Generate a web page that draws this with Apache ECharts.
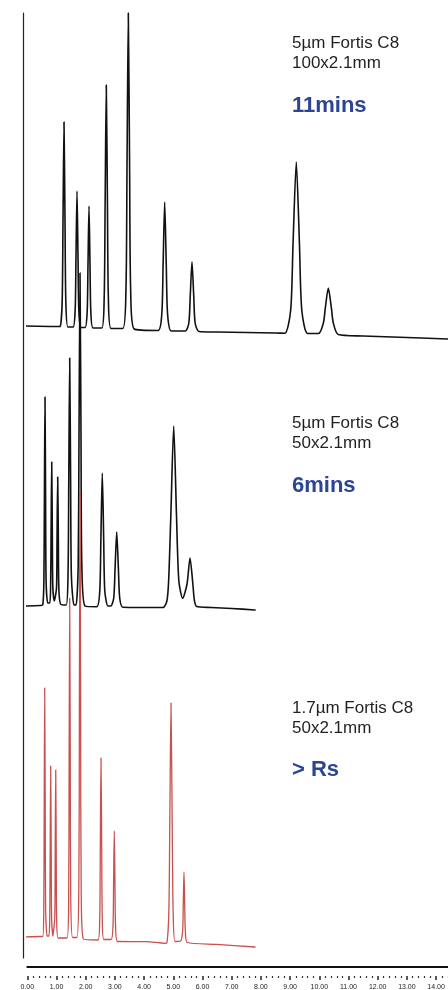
<!DOCTYPE html>
<html>
<head>
<meta charset="utf-8">
<title>Fortis C8</title>
<script src="https://cdn.jsdelivr.net/npm/echarts@6/dist/echarts.min.js"></script>
<style>
    html, body { margin: 0; padding: 0; background: #fff; }
    #chart { width: 448px; height: 990px; }
</style>
</head>
<body>
<div id="chart"></div>
<script>
// 时间轴标签 (min)
let timeTicks = ['0.00', '1.00', '2.00', '3.00', '4.00', '5.00', '6.00', '7.00',
    '8.00', '9.00', '10.00', '11.00', '12.00', '13.00', '14.00']

// 色谱柱说明
let columnNames = ['5µm Fortis C8', '5µm Fortis C8', '1.7µm Fortis C8']
let columnSizes = ['100x2.1mm', '50x2.1mm', '50x2.1mm']
let runNotes = ['11mins', '6mins', '> Rs']

// 5µm 100x2.1mm  [time, signal]
let trace100mm = [
    [-0.15, 0], [1.10, -0.5],
    [1.13, -0.5], [1.194, 24], [1.222, 102], [1.257, 204], [1.292, 102], [1.320, 24], [1.39, -1],
    [1.57, -1], [1.639, 16], [1.667, 68], [1.702, 135], [1.737, 68], [1.765, 16], [1.83, -1.5],
    [1.98, -1.5], [2.050, 14], [2.078, 60], [2.113, 120], [2.148, 60], [2.176, 14], [2.25, -2],
    [2.55, -2], [2.633, 28], [2.665, 121], [2.705, 241], [2.745, 121], [2.777, 28], [2.87, -2.5],
    [3.27, -2.5], [3.378, 36], [3.414, 156], [3.459, 313], [3.504, 156], [3.540, 36], [3.66, -3],
    [4.48, -4.5], [4.606, 12], [4.65, 60], [4.705, 124], [4.76, 60], [4.804, 12], [4.93, -5],
    [5.41, -5], [5.532, 3], [5.58, 30], [5.64, 64], [5.70, 30], [5.748, 3], [5.88, -5.5],
    [6.5, -6], [7.5, -6.5], [8.5, -7],
    [8.82, -7.3], [9.02, 16], [9.10, 82], [9.212, 164], [9.32, 82], [9.40, 16], [9.60, -7.5],
    [9.97, -7.5], [10.14, 3], [10.21, 19], [10.308, 38], [10.41, 19], [10.48, 3], [10.65, -8.5],
    [11.5, -10], [12.5, -11], [13.5, -12], [14.45, -13]
]

// 5µm 50x2.1mm
let trace50mm = [
    [-0.15, 0], [0.45, 0.5],
    [0.53, 1], [0.568, 25], [0.585, 104], [0.606, 209], [0.627, 104], [0.644, 25], [0.70, 3],
    [0.77, 3], [0.798, 19], [0.815, 72], [0.836, 144], [0.857, 72], [0.874, 19], [0.925, 5],
    [1.000, 18], [1.018, 65], [1.041, 129], [1.064, 65], [1.082, 16], [1.15, 1.5],
    [1.33, 1], [1.394, 30], [1.42, 124], [1.452, 248], [1.484, 124], [1.51, 30], [1.60, 1],
    [1.67, 1], [1.742, 40], [1.77, 166], [1.805, 333], [1.84, 166], [1.868, 40], [1.98, 0],
    [2.38, -0.7], [2.482, 15], [2.52, 67], [2.568, 133], [2.616, 67], [2.654, 15], [2.76, 0],
    [2.86, 0], [2.96, 8], [3.005, 37], [3.062, 74], [3.12, 37], [3.165, 8], [3.27, -1.3],
    [3.9, -1.5], [4.65, -1.5],
    [4.78, 5], [4.84, 25], [4.915, 90], [5.014, 180], [5.11, 90], [5.19, 25], [5.322, 7.7],
    [5.47, 22], [5.572, 48], [5.67, 22], [5.72, 6], [5.80, -0.5],
    [6.3, -1.5], [7.0, -2.5], [7.80, -4]
]

// 1.7µm 50x2.1mm
let trace17um = [
    [-0.15, 0], [0.45, 0.5],
    [0.53, 0.5], [0.564, 28], [0.578, 124], [0.596, 249], [0.614, 124], [0.628, 28], [0.68, 1],
    [0.74, 1], [0.769, 19], [0.783, 85], [0.801, 171], [0.819, 85], [0.833, 19], [0.88, 1],
    [0.90, 1], [0.941, 19], [0.955, 83], [0.973, 167], [0.991, 83], [1.005, 19], [1.06, -1],
    [1.36, -1], [1.416, 38], [1.432, 169], [1.452, 339], [1.472, 169], [1.488, 38], [1.55, -0.5],
    [1.70, -0.5], [1.765, 50], [1.783, 223], [1.805, 446], [1.827, 223], [1.845, 50], [1.92, -2],
    [2.42, -3], [2.481, 20], [2.50, 89], [2.524, 179], [2.548, 89], [2.567, 20], [2.62, -2.5],
    [2.87, -2.5], [2.936, 12], [2.955, 53], [2.979, 106], [3.003, 53], [3.022, 12], [3.09, -4.5],
    [4.09, -4.7], [4.72, -6.3],
    [4.78, -6], [4.848, 26], [4.88, 114], [4.921, 234], [4.962, 114], [4.994, 26], [5.06, -4.5],
    [5.25, -4], [5.319, 6], [5.34, 30], [5.366, 65], [5.392, 30], [5.413, 6], [5.48, -5.5],
    [6.49, -7.3], [7.80, -10]
]

function traceSeries (data, yIndex, color, width) {
    return {
        type: 'line',
        xAxisIndex: 0,
        yAxisIndex: yIndex,
        data: data,
        showSymbol: false,
        clip: false,
        silent: true,
        smooth: 0.25,
        lineStyle: { color: color, width: width, join: 'round', cap: 'round' }
    }
}

function hiddenY (min, max) {
    return { type: 'value', gridIndex: 0, min: min, max: max, show: false }
}

// 右侧文字
function labels () {
    let rows = [
        [43, 63.4, 106.3],
        [423, 443.4, 486.3],
        [708.4, 728.4, 769.6]
    ]
    let list = []
    for (let i = 0; i < rows.length; i++) {
        list.push({
            type: 'text', x: 292, y: rows[i][0],
            style: { text: columnNames[i], fill: '#231f20', fontSize: 17, fontFamily: 'Liberation Sans', verticalAlign: 'middle' }
        })
        list.push({
            type: 'text', x: 292, y: rows[i][1],
            style: { text: columnSizes[i], fill: '#231f20', fontSize: 17, fontFamily: 'Liberation Sans', verticalAlign: 'middle' }
        })
        list.push({
            type: 'text', x: 292, y: rows[i][2],
            style: { text: runNotes[i], fill: '#2b4496', fontSize: 22, fontWeight: 'bold', fontFamily: 'Liberation Sans', verticalAlign: 'middle' }
        })
    }
    return list
}

let chart = echarts.init(document.getElementById('chart'))
let option = {
    animation: false,
    backgroundColor: '#fff',
    grid: [
        { left: 27.3, right: -17.3, top: 13, bottom: 23, outerBoundsMode: 'none', containLabel: false },
        { left: 23.3, width: 10, top: 13, bottom: 32, outerBoundsMode: 'none', containLabel: false }
    ],
    xAxis: [
        {
            type: 'value', gridIndex: 0, position: 'bottom', min: 0, max: 15, interval: 1,
            axisLine: { show: true, onZero: false, lineStyle: { color: '#111', width: 2 } },
            axisTick: { show: false },
            axisLabel: { show: false },
            splitLine: { show: false }
        },
        {
            type: 'value', gridIndex: 0, position: 'bottom', min: 0, max: 15, interval: 1, offset: 9,
            axisLine: { show: false, onZero: false },
            axisTick: { show: true, length: 4, lineStyle: { color: '#222', width: 1.5 } },
            minorTick: { show: true, splitNumber: 5, length: 2, lineStyle: { color: '#333', width: 1.2 } },
            axisLabel: {
                show: true, margin: 8, fontSize: 7, color: '#222',
                fontFamily: 'Liberation Sans Narrow, Liberation Sans',
                formatter: function (v) { return timeTicks[Math.round(v)] || '' }
            },
            splitLine: { show: false }
        },
        { type: 'value', gridIndex: 1, show: false }
    ],
    yAxis: [
        hiddenY(-641, 313),
        hiddenY(-361, 593),
        hiddenY(-30, 924),
        {
            type: 'value', gridIndex: 1, min: 0, max: 1,
            axisLine: { show: true, lineStyle: { color: '#222', width: 1.2 } },
            axisTick: { show: false },
            axisLabel: { show: false },
            splitLine: { show: false }
        }
    ],
    series: [
        traceSeries(trace100mm, 0, '#111', 1.6),
        traceSeries(trace50mm, 1, '#111', 1.6),
        traceSeries(trace17um, 2, '#c8504e', 1.3)
    ],
    graphic: labels()
}
chart.setOption(option)
</script>
</body>
</html>
